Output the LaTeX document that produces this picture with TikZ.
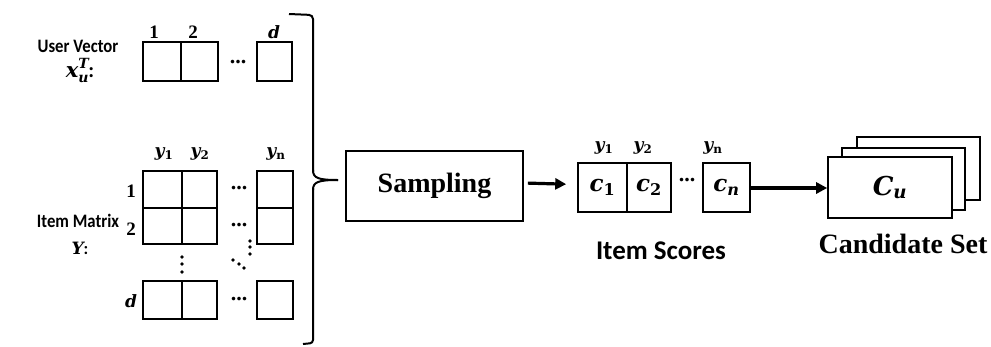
\documentclass[tikz,border=0pt]{standalone}
\usepackage{graphicx}
\usepackage{fontspec}
\setmainfont{Liberation Serif}
\newfontfamily\calfont{Carlito}
\newfontfamily\varfont{DejaVu Serif}
\usetikzlibrary{arrows.meta}

% bold italic variable, with bold sub- and superscripts
\newcommand\bvar[1]{{\varfont\bfseries\itshape #1}}
\newcommand\bsub[1]{\textsubscript{\varfont\bfseries #1}}
\newcommand\bsubit[1]{\textsubscript{\varfont\bfseries\itshape #1}}
\newcommand\narrow[1]{\scalebox{0.88}[1]{#1}}

\tikzset{
  cell/.style={draw, line width=1.6pt, minimum width=0pt, minimum height=0pt},
  lbl/.style={inner sep=0pt, font=\bfseries\fontsize{19}{21}\selectfont},
  varlbl/.style={inner sep=0pt, font=\fontsize{17}{19}\selectfont},
  side/.style={inner sep=0pt, font=\calfont\bfseries\fontsize{19}{21}\selectfont},
  dotsym/.style={inner sep=0pt, font=\bfseries\fontsize{22}{24}\selectfont},
  dot/.style={circle, fill, inner sep=0pt, minimum size=3.6pt},
  flow/.style={line width=3.2pt, -{Triangle[length=11pt,width=11pt]}},
  bigvar/.style={inner sep=0pt, font=\fontsize{23}{25}\selectfont},
}

\begin{document}
\begin{tikzpicture}[x=1pt, y=-1pt]
\useasboundingbox (0,0) rectangle (991,346);

% ---------- user vector ----------
\node[side] (uv) at (78,46) {\narrow{User Vector}};
\node[inner sep=0pt, font=\fontsize{21}{23}\selectfont] (xu) at (80,70)
  {\bvar{x}\makebox[0pt][l]{\raisebox{9pt}{\fontsize{14}{16}\selectfont\bvar{T}}}%
   \raisebox{-5pt}{\fontsize{14}{16}\selectfont\bvar{u}}{\calfont\bfseries:}};
\draw[cell] (143,42) rectangle (181,81);
\draw[cell] (181,42) rectangle (218,81);
\draw[cell] (257,42) rectangle (292,81);
\node[lbl] (u1) at (154,32) {1};
\node[lbl] (u2) at (193,32) {2};
\node[varlbl] (ud) at (274,32) {\bvar{d}};
\node[dotsym] (udots) at (238,62) {...};

% ---------- item matrix ----------
\node[side] (im) at (78,221) {\narrow{Item Matrix}};
\node[inner sep=0pt, font=\fontsize{17}{19}\selectfont] (ym) at (80,248) {\bvar{Y}\calfont\bfseries:};
\foreach \ya/\yb in {171/208, 208/244, 281/319}{
  \draw[cell] (143,\ya) rectangle (182,\yb);
  \draw[cell] (182,\ya) rectangle (217,\yb);
  \draw[cell] (257,\ya) rectangle (293,\yb);
}
\node[varlbl] (c1) at (164,154) {\bvar{y}\bsub{1}};
\node[varlbl] (c2) at (200,154) {\bvar{y}\bsub{2}};
\node[varlbl] (cn) at (276,154) {\bvar{y}\bsub{n}};
\node[lbl] (r1) at (131,191) {1};
\node[lbl] (r2) at (131,229) {2};
\node[varlbl] (rd) at (131,301) {\bvar{d}};
\node[dotsym] (d1) at (239,188) {...};
\node[dotsym] (d2) at (239,225) {...};
\node[dotsym] (d3) at (239,299) {...};
\foreach \yy in {257,264,272} \node[dot] at (182,\yy) {};
\foreach \yy in {241,247,254} \node[dot] at (250,\yy) {};
\foreach \xx/\yy in {233/260, 239/264, 244/268} \node[dot] at (\xx,\yy) {};

% ---------- brace ----------
\draw[line width=2pt, rounded corners=4pt]
  (289,14) -- (313,15) -- (313,172);
\draw[line width=2pt]
  (313,170) .. controls (313,178) and (318,180) .. (338,180);
\draw[line width=2pt]
  (313,190) .. controls (313,182) and (318,180) .. (338,180);
\draw[line width=2pt, rounded corners=3pt]
  (313,188) -- (313,343) -- (303,344);

% ---------- sampling ----------
\node[draw, line width=1.6pt, minimum width=177pt, minimum height=70pt, inner sep=0pt,
      font=\bfseries\fontsize{28}{30}\selectfont] (samp) at (434.5,186) {Sampling};

% ---------- item scores ----------
\node[cell, minimum width=49pt, minimum height=49pt, inner sep=0pt] (s1) at (602.5,187.5) {};
\node[cell, minimum width=44pt, minimum height=49pt, inner sep=0pt] (s2) at (649,187.5) {};
\node[cell, minimum width=47pt, minimum height=49pt, inner sep=0pt] (sn) at (726.5,187.5) {};
\node[bigvar] at (s1.center) {\bvar{c}\bsub{1}};
\node[bigvar] at (s2.center) {\bvar{c}\bsub{2}};
\node[bigvar] at (sn.center) {\bvar{c}\bsubit{n}};
\node[varlbl] (t1) at (604,148) {\bvar{y}\bsub{1}};
\node[varlbl] (t2) at (643,148) {\bvar{y}\bsub{2}};
\node[varlbl] (tn) at (713,148) {\bvar{y}\bsub{n}};
\node[dotsym] (sdots) at (687,180) {...};
\node[inner sep=0pt, anchor=base, font=\calfont\bfseries\fontsize{27}{29}\selectfont] (isc) at (661,259) {Item Scores};

% ---------- candidate set ----------
\draw[cell, fill=white] (857,137) rectangle (980,200);
\draw[cell, fill=white] (842,148) rectangle (965,210);
\node[cell, fill=white, minimum width=124pt, minimum height=61pt, inner sep=0pt] (cand) at (890,187.5) {};
\node[inner sep=0pt, font=\fontsize{26}{28}\selectfont] at (cand.center) {\bvar{C}\bsubit{u}};
\node[inner sep=0pt, anchor=base, font=\bfseries\fontsize{28}{30}\selectfont] (cset) at (903,253) {Candidate Set};

% ---------- arrows ----------
\draw[flow, shorten <=4pt, shorten >=11pt] ([yshift=3pt]samp.east) -- ([yshift=3pt]s1.west);
\draw[flow] ([yshift=-0.5pt]sn.east) -- ([yshift=-0.5pt]cand.west);
\end{tikzpicture}
\end{document}
